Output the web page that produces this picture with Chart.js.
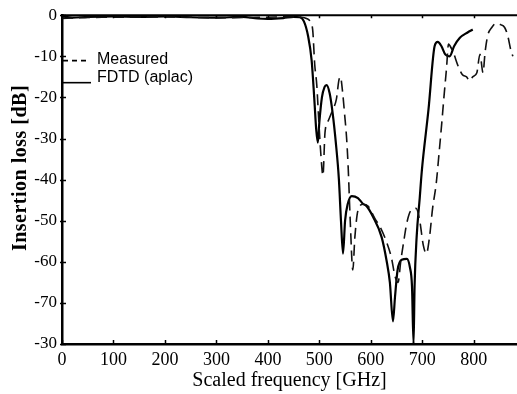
<!DOCTYPE html>
<html>
<head>
<meta charset="utf-8">
<script src="https://cdn.jsdelivr.net/npm/chart.js@4/dist/chart.umd.min.js"></script>
<style>
  html, body { margin: 0; padding: 0; background: #fff; }
  #wrap { width: 517px; height: 394px; position: relative; }
</style>
</head>
<body>
<div id="wrap"><canvas id="c" width="517" height="394"></canvas></div>
<script>
// ---- Data ----
const xTickValues = [0, 100, 200, 300, 400, 500, 600, 700, 800];
const yTickValues = [0, -10, -20, -30, -40, -50, -60, -70, -80];
const yTickLabels = ['0', '-10', '-20', '-30', '-40', '-50', '-60', '-70', '-30'];

const seriesNames = ['Measured', 'FDTD (aplac)'];

const measuredFreq = [0, 30, 100, 200, 300, 400, 440, 465, 475, 482, 487, 491, 495, 499, 503, 507, 511, 518, 526, 533, 538, 541, 545, 549, 553, 556, 560, 565, 569, 575, 585, 595, 608, 618, 630, 640, 647, 653, 658, 664, 670, 678, 688, 695, 702, 708, 714, 720, 727, 733, 738, 742, 747, 751, 754, 760, 770, 778, 786, 792, 798, 806, 812, 818, 822, 827, 835, 843, 852, 860, 866, 872, 876];
const measuredLoss = [-0.8, -0.6, -0.5, -0.4, -0.6, -0.5, -0.4, -0.5, -0.8, -1.5, -3.5, -12, -17, -26, -34, -39, -28.5, -25.5, -23, -20.5, -15.8, -15, -18.5, -24, -30, -37, -50, -62, -54, -47.5, -46, -46.5, -49.5, -51.5, -55, -59, -63.5, -65, -60, -55, -50.5, -47.5, -47, -50, -56, -58, -54, -47, -41, -33, -26, -20, -13, -7, -7.5, -9, -12.5, -14.5, -15, -16, -15, -14, -9.5, -14, -9, -5, -3, -2, -2.3, -3, -5, -8.5, -10];

const fdtdFreq = [0, 20, 50, 100, 150, 200, 250, 300, 350, 380, 400, 430, 450, 462, 470, 478, 485, 490, 494, 497, 500, 505, 510, 514, 520, 526, 532, 538, 542, 546, 550, 555, 563, 575, 584, 592, 604, 621, 631, 637, 643, 647, 652, 660, 670, 676, 680, 683, 685, 689, 695, 699, 712, 724, 730, 737, 745, 753, 762, 773, 788, 798];
const fdtdLoss = [-0.3, -0.6, -0.4, -0.3, -0.4, -0.3, -0.5, -0.6, -0.4, -0.8, -0.9, -0.7, -0.4, -0.5, -1.5, -5, -11, -20, -28, -31, -26, -20, -17.5, -17, -19, -24, -31, -40, -50, -58, -50, -46, -44, -44.5, -45.8, -46.5, -49, -54, -60, -65, -74.5, -68.5, -62, -59.5, -59.3, -61.4, -66, -80, -66, -54, -44.5, -38, -23, -7.5, -6.5, -7.5, -9.6, -10, -7.5, -5.5, -4.2, -3.5];

const toPoints = (xs, ys) => xs.map((x, i) => ({ x: x, y: ys[i] }));

const SERIF = "'Liberation Serif', 'Times New Roman', serif";
const SANS = "'Liberation Sans', Arial, sans-serif";

// frame: top border line + inward tick marks
const framePlugin = {
  id: 'frame',
  afterDatasetsDraw(chart) {
    const { ctx, chartArea: a, scales: { x, y } } = chart;
    ctx.save();
    ctx.strokeStyle = '#000';
    ctx.lineWidth = 2;
    ctx.beginPath();
    ctx.moveTo(a.left, a.top);
    ctx.lineTo(a.right, a.top);
    ctx.stroke();
    ctx.lineWidth = 1.5;
    ctx.beginPath();
    xTickValues.forEach(v => {
      const px = Math.round(x.getPixelForValue(v)) + 0.5;
      ctx.moveTo(px, a.bottom);
      ctx.lineTo(px, a.bottom - 4);
      ctx.moveTo(px, a.top);
      ctx.lineTo(px, a.top + 3);
    });
    yTickValues.forEach(v => {
      const py = Math.round(y.getPixelForValue(v)) + 0.5;
      ctx.moveTo(a.left - 2, py);
      ctx.lineTo(a.left + 4, py);
    });
    ctx.stroke();
    ctx.restore();
  }
};

// legend inside the plot area (upper left) and rotated y title
const annotatePlugin = {
  id: 'annotate',
  afterDraw(chart) {
    const { ctx, chartArea: a, scales: { y } } = chart;
    const ds = chart.data.datasets;
    ctx.save();
    ctx.fillStyle = '#000';
    ctx.strokeStyle = '#000';
    ctx.font = '16px ' + SANS;
    ctx.textBaseline = 'middle';
    ctx.textAlign = 'left';
    const yM = y.getPixelForValue(-10.8);
    const yF = y.getPixelForValue(-15.2);
    // dashed sample
    ctx.lineWidth = 1.6;
    ctx.setLineDash([5, 4]);
    ctx.beginPath();
    ctx.moveTo(a.left + 1, yM + 1);
    ctx.lineTo(a.left + 26, yM + 1);
    ctx.stroke();
    // solid sample
    ctx.setLineDash([]);
    ctx.beginPath();
    ctx.moveTo(a.left, yF + 5);
    ctx.lineTo(a.left + 29, yF + 5);
    ctx.stroke();
    ctx.fillText(ds[0].label, a.left + 35, yM);
    ctx.fillText(ds[1].label, a.left + 35, yF);

    // y-axis title
    ctx.translate(21, 168);
    ctx.rotate(-Math.PI / 2);
    ctx.font = 'bold 20px ' + SERIF;
    try { ctx.letterSpacing = '0.5px'; } catch (e) {}
    ctx.textAlign = 'center';
    ctx.fillText('Insertion loss [dB]', 0, 0);
    ctx.restore();
  }
};

new Chart(document.getElementById('c'), {
  type: 'line',
  data: {
    datasets: [
      {
        label: seriesNames[0],
        data: toPoints(measuredFreq, measuredLoss),
        borderColor: '#111',
        borderWidth: 1.6,
        borderDash: [11, 6],
        pointRadius: 0,
        fill: false,
        cubicInterpolationMode: 'monotone'
      },
      {
        label: seriesNames[1],
        data: toPoints(fdtdFreq, fdtdLoss),
        borderColor: '#000',
        borderWidth: 2.2,
        pointRadius: 0,
        fill: false,
        cubicInterpolationMode: 'monotone'
      }
    ]
  },
  options: {
    responsive: false,
    animation: false,
    devicePixelRatio: 1,
    layout: { padding: { top: 12, right: 0, left: 0, bottom: 0 } },
    plugins: {
      legend: { display: false },
      tooltip: { enabled: false },
      title: { display: false }
    },
    scales: {
      x: {
        type: 'linear',
        min: 0,
        max: 884,
        afterBuildTicks: s => { s.ticks = xTickValues.map(v => ({ value: v })); },
        afterFit: s => { s.height = 50; },
        grid: { display: false, drawTicks: false },
        border: { display: true, color: '#000', width: 2.5 },
        ticks: {
          color: '#000',
          padding: 5,
          maxRotation: 0,
          font: { family: SERIF, size: 18 },
          callback: v => String(v)
        },
        title: {
          display: true,
          text: 'Scaled frequency [GHz]',
          color: '#000',
          font: { family: SERIF, size: 20 },
          padding: { top: 0, bottom: 1 }
        }
      },
      y: {
        type: 'linear',
        min: -80,
        max: 0,
        afterBuildTicks: s => { s.ticks = yTickValues.map(v => ({ value: v })); },
        afterFit: s => { s.width = 62; },
        grid: { display: false, drawTicks: false },
        border: { display: true, color: '#000', width: 2.5 },
        ticks: {
          color: '#000',
          padding: 5,
          font: { family: SERIF, size: 17 },
          callback: (v) => {
            const i = yTickValues.indexOf(v);
            return i >= 0 ? yTickLabels[i] : '';
          }
        }
      }
    }
  },
  plugins: [framePlugin, annotatePlugin]
});
</script>
</body>
</html>
